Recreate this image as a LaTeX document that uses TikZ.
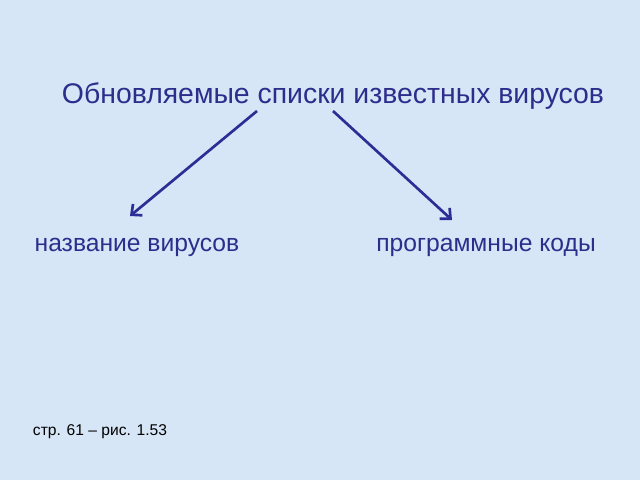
\documentclass[tikz,border=0pt]{standalone}
\usepackage{fontspec}
\setmainfont{Liberation Sans}
\usetikzlibrary{arrows.meta}
\definecolor{bg}{RGB}{214,230,246}
\definecolor{txt}{RGB}{45,45,140}
\definecolor{arr}{RGB}{45,45,150}
\begin{document}
\begin{tikzpicture}[x=0.75pt,y=-0.75pt,
  title/.style={text=txt,font=\fontsize{21.3}{25}\selectfont,inner sep=0pt,anchor=center},
  leaf/.style={text=txt,font=\fontsize{18.5}{22}\selectfont,inner sep=0pt,anchor=center},
  conn/.style={draw=arr,line width=2pt,-{Straight Barb[length=6pt,width=11pt,line width=2pt]}}]
\fill[bg] (0,0) rectangle (640,480);
\useasboundingbox (0,0) rectangle (640,480);
\node[title] (t) at (333,96) {Обновляемые списки известных вирусов};
\node[leaf] (a) at (137,247) {название вирусов};
\node[leaf] (b) at (486,247) {программные коды};
\node[text=black,font=\fontsize{11.7}{14}\selectfont,inner sep=0pt] (f) at (100,432) {стр. 61 – рис. 1.53};
\coordinate (s1) at (257,111);
\coordinate (e1) at (130,216);
\coordinate (s2) at (333,111);
\coordinate (e2) at (452,220);
\draw[conn] (s1) -- (e1);
\draw[conn] (s2) -- (e2);
\end{tikzpicture}
\end{document}
